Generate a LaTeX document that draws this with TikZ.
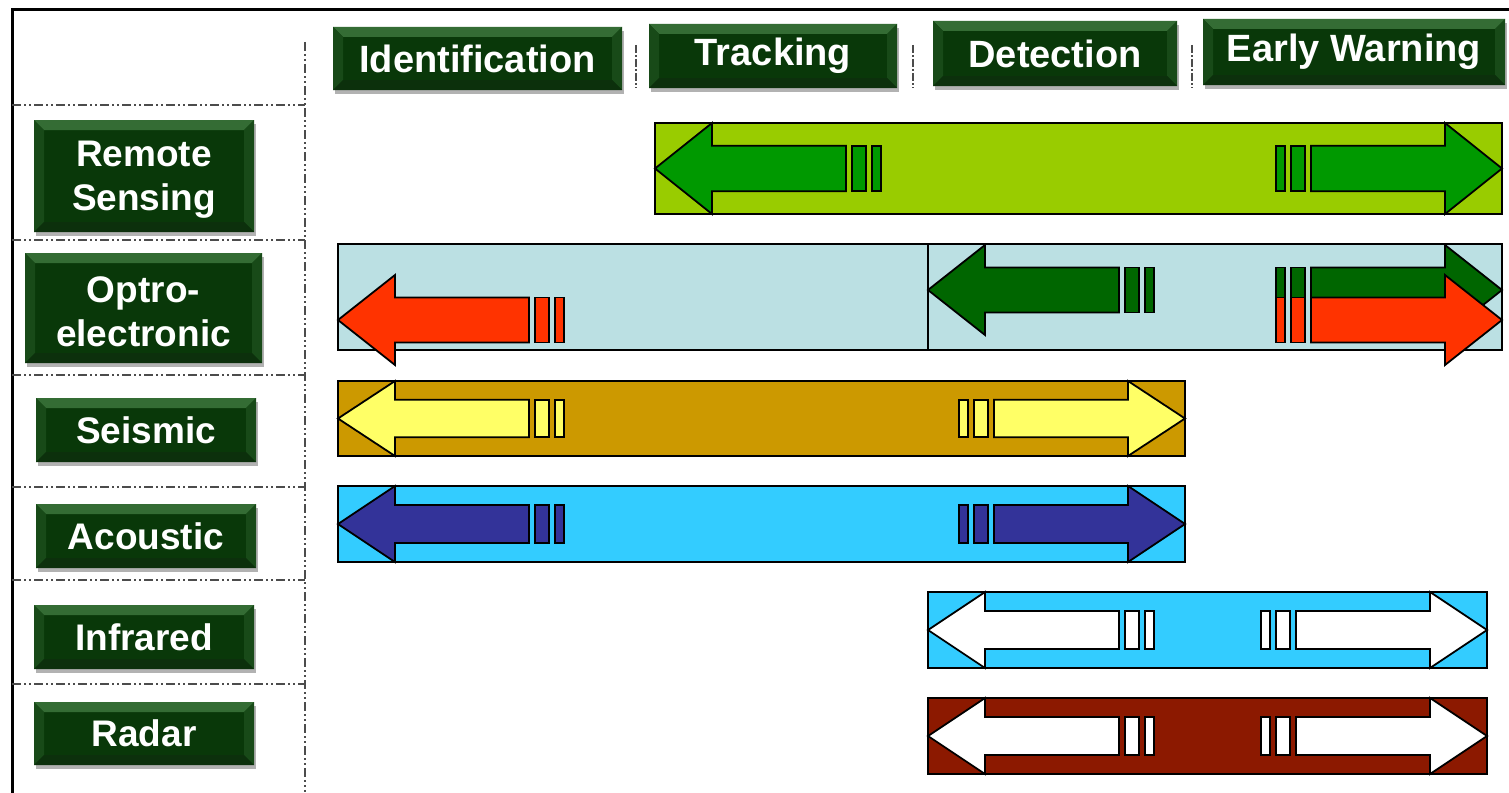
\documentclass[tikz,border=0pt]{standalone}
\usepackage{fontspec}
\setmainfont{Liberation Sans}
\usetikzlibrary{calc}
\definecolor{btnDark}{RGB}{9,56,9}
\definecolor{btnTop}{RGB}{52,108,52}
\definecolor{btnSide}{RGB}{24,74,24}
\definecolor{btnBot}{RGB}{12,48,12}
\definecolor{rsBar}{HTML}{99CC00}
\definecolor{rsArr}{HTML}{009900}
\definecolor{opBar}{HTML}{BBE0E3}
\definecolor{opGreen}{HTML}{006600}
\definecolor{opRed}{HTML}{FF3300}
\definecolor{seBar}{HTML}{CC9900}
\definecolor{seArr}{HTML}{FFFF66}
\definecolor{skyBar}{HTML}{33CCFF}
\definecolor{acArr}{HTML}{333399}
\definecolor{raBar}{HTML}{8C1900}
\tikzset{
  arrowline/.style={draw=black, line width=1.8pt, line join=miter},
  barbox/.style={draw=black, line width=1.8pt},
  gridline/.style={draw=gray!60!black, line width=1.6pt, dash pattern=on 9pt off 3pt on 2pt off 3pt on 2pt off 3pt},
  btn/.style={fill=btnDark, text=white, align=center, inner sep=0pt,
    preaction={fill=black!30, transform canvas={xshift=2pt,yshift=-4pt}},
    path picture={
      \fill[btnTop] (path picture bounding box.north west) -- (path picture bounding box.north east)
        -- ($(path picture bounding box.north east)+(-10pt,-10pt)$) -- ($(path picture bounding box.north west)+(10pt,-10pt)$) -- cycle;
      \fill[btnSide] (path picture bounding box.north west) -- (path picture bounding box.south west)
        -- ($(path picture bounding box.south west)+(10pt,10pt)$) -- ($(path picture bounding box.north west)+(10pt,-10pt)$) -- cycle;
      \fill[btnSide] (path picture bounding box.north east) -- (path picture bounding box.south east)
        -- ($(path picture bounding box.south east)+(-10pt,10pt)$) -- ($(path picture bounding box.north east)+(-10pt,-10pt)$) -- cycle;
      \fill[btnBot] (path picture bounding box.south west) -- (path picture bounding box.south east)
        -- ($(path picture bounding box.south east)+(-10pt,10pt)$) -- ($(path picture bounding box.south west)+(10pt,10pt)$) -- cycle;
    }},
  hbtn/.style={btn, font=\bfseries\fontsize{38}{42}\selectfont},
  lbtn/.style={btn, font=\bfseries\fontsize{37}{44}\selectfont},
}
% #1 tip x, #2 mid y, #3 head height, #4 fill
\newcommand\larrowpart[4]{%
  \filldraw[arrowline, fill=#4] (#1,#2) -- ({#1+57},{#2-#3/2}) -- ({#1+57},{#2-#3/4}) -- ({#1+191},{#2-#3/4})
    -- ({#1+191},{#2+#3/4}) -- ({#1+57},{#2+#3/4}) -- ({#1+57},{#2+#3/2}) -- cycle;
  \filldraw[arrowline, fill=#4] ({#1+197},{#2-#3/4}) rectangle ({#1+211},{#2+#3/4});
  \filldraw[arrowline, fill=#4] ({#1+217},{#2-#3/4}) rectangle ({#1+226},{#2+#3/4});
}
\newcommand\rarrowpart[4]{%
  \filldraw[arrowline, fill=#4] (#1,#2) -- ({#1-57},{#2-#3/2}) -- ({#1-57},{#2-#3/4}) -- ({#1-191},{#2-#3/4})
    -- ({#1-191},{#2+#3/4}) -- ({#1-57},{#2+#3/4}) -- ({#1-57},{#2+#3/2}) -- cycle;
  \filldraw[arrowline, fill=#4] ({#1-197},{#2-#3/4}) rectangle ({#1-211},{#2+#3/4});
  \filldraw[arrowline, fill=#4] ({#1-217},{#2-#3/4}) rectangle ({#1-226},{#2+#3/4});
}
\begin{document}
\begin{tikzpicture}[x=1pt,y=-1pt]
\useasboundingbox (0,0) rectangle (1509,792);
\fill[white] (0,0) rectangle (1509,792);
% frame
\draw[line width=3pt, black] (12,800) -- (12,10) -- (1520,10);
% grid lines
\draw[gridline, line width=1.4pt] (305,42) -- (305,792);
\foreach \yy in {105,240,375,487,580,684} \draw[gridline] (12,\yy) -- (305,\yy);
\foreach \xx in {636,913,1192} \draw[gridline, line width=1.4pt, dash pattern=on 8pt off 2pt on 2pt off 2pt] (\xx,45) -- (\xx,88);
% headers
\node[hbtn, minimum width=289pt, minimum height=63pt] (hid) at (477.5,58.5) {Identification};
\node[hbtn, minimum width=248pt, minimum height=64pt] (htr) at (773,56) {Tracking};
\node[hbtn, minimum width=244pt, minimum height=65pt] (hde) at (1055,53.5) {Detection};
\node[hbtn, minimum width=302pt, minimum height=66pt] (hew) at (1354,52) {Early Warning};
% row labels
\node[lbtn, minimum width=220pt, minimum height=112pt] (lrs) at (144,176) {\parbox{200pt}{\vspace*{8pt}\centering Remote\\Sensing}};
\node[lbtn, minimum width=237pt, minimum height=110pt] (lop) at (143.5,308) {\parbox{220pt}{\vspace*{8pt}\centering Optro-\\electronic}};
\node[lbtn, minimum width=220pt, minimum height=64pt] (lse) at (146,430) {Seismic};
\node[lbtn, minimum width=220pt, minimum height=64pt] (lac) at (146,536) {Acoustic};
\node[lbtn, minimum width=220pt, minimum height=64pt] (lir) at (144,637) {Infrared};
\node[lbtn, minimum width=220pt, minimum height=63pt] (lra) at (144,733.5) {Radar};
% Remote sensing
\filldraw[barbox, fill=rsBar] (655,123) rectangle (1502,214);
\larrowpart{655}{168.5}{91}{rsArr}
\rarrowpart{1502}{168.5}{91}{rsArr}
% Optro-electronic
\filldraw[barbox, fill=opBar] (338,244) rectangle (1502,350);
\draw[barbox] (928,244) -- (928,350);
\larrowpart{928}{290}{90}{opGreen}
\rarrowpart{1502}{290}{90}{opGreen}
\larrowpart{338}{320}{90}{opRed}
\rarrowpart{1502}{320}{90}{opRed}
% Seismic
\filldraw[barbox, fill=seBar] (338,381) rectangle (1185,456);
\larrowpart{338}{418.5}{75}{seArr}
\rarrowpart{1185}{418.5}{75}{seArr}
% Acoustic
\filldraw[barbox, fill=skyBar] (338,486) rectangle (1185,562);
\larrowpart{338}{524}{76}{acArr}
\rarrowpart{1185}{524}{76}{acArr}
% Infrared
\filldraw[barbox, fill=skyBar] (928,592) rectangle (1487,668);
\larrowpart{928}{630}{76}{white}
\rarrowpart{1487}{630}{76}{white}
% Radar
\filldraw[barbox, fill=raBar] (928,698) rectangle (1487,774);
\larrowpart{928}{736}{76}{white}
\rarrowpart{1487}{736}{76}{white}
\end{tikzpicture}
\end{document}
